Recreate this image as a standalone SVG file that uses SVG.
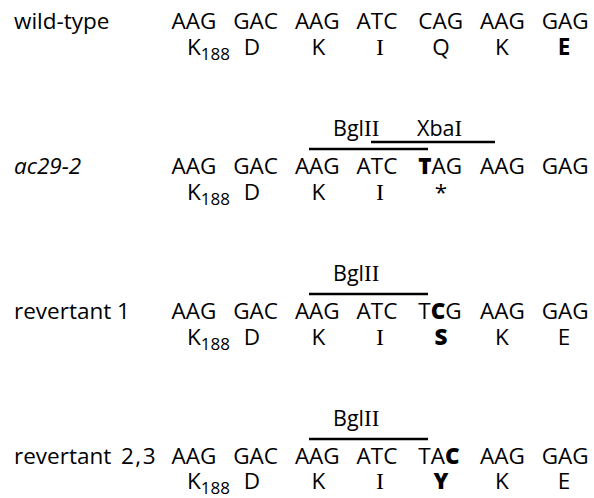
<svg xmlns="http://www.w3.org/2000/svg" width="594" height="498" viewBox="0 0 594 498">
<style>
  text { font-family: "Open Sans", "Liberation Sans", sans-serif; fill: #000; }
  .lbl { font-size: 22.5px; font-weight: 500; }
  .it { font-style: italic; }
  .cod { font-size: 22.5px; font-weight: 500; }
  .aa { font-size: 22.5px; font-weight: 500; text-anchor: middle; }
  .k { font-size: 22.5px; font-weight: 500; }
  .sub { font-size: 17px; }
  .b { font-weight: 800; }
  .bm { font-weight: 700; }
  .ser { font-family: "Liberation Serif", "Times New Roman", serif; font-size: 24px; font-weight: 400; }
  .enz { font-size: 21.5px; font-weight: 500; }
  .enz .ser { font-size: 23px; }
  .site { stroke: #000; stroke-width: 2.5; fill: none; }
</style>

<g id="wild-type">
  <text class="lbl" x="14" y="29">wild-type</text>
  <text class="cod" y="29"><tspan x="171.5">AAG</tspan><tspan x="233.2">GAC</tspan><tspan x="294.9">AAG</tspan><tspan x="356.6">ATC</tspan><tspan x="418.3">CAG</tspan><tspan x="480">AAG</tspan><tspan x="541.7">GAG</tspan></text>
  <text class="k" x="187" y="55">K<tspan class="sub" dy="5">188</tspan></text>
  <text class="aa" y="55"><tspan x="252">D</tspan><tspan x="318.5">K</tspan><tspan x="380" class="ser">I</tspan><tspan x="441">Q</tspan><tspan x="502">K</tspan><tspan x="564" class="bm">E</tspan></text>
</g>

<g id="ac29-2">
  <text class="enz" x="333" y="136">Bgl<tspan class="ser">II</tspan></text>
  <text class="enz" x="417" y="136">Xba<tspan class="ser">I</tspan></text>
  <text class="lbl it" x="14" y="174">ac29-2</text>
  <text class="cod" y="174"><tspan x="171.5">AAG</tspan><tspan x="233.2">GAC</tspan><tspan x="294.9">AAG</tspan><tspan x="356.6">ATC</tspan><tspan x="418.3"><tspan class="b">T</tspan>AG</tspan><tspan x="480">AAG</tspan><tspan x="541.7">GAG</tspan></text>
  <text class="k" x="187" y="200">K<tspan class="sub" dy="5">188</tspan></text>
  <text class="aa" y="200"><tspan x="252">D</tspan><tspan x="318.5">K</tspan><tspan x="380" class="ser">I</tspan><tspan x="441">*</tspan></text>
</g>

<g id="revertant-1">
  <text class="enz" x="333" y="281">Bgl<tspan class="ser">II</tspan></text>
  <text class="lbl" x="14" y="319">revertant 1</text>
  <text class="cod" y="319"><tspan x="171.5">AAG</tspan><tspan x="233.2">GAC</tspan><tspan x="294.9">AAG</tspan><tspan x="356.6">ATC</tspan><tspan x="418.3">T<tspan class="b">C</tspan>G</tspan><tspan x="480">AAG</tspan><tspan x="541.7">GAG</tspan></text>
  <text class="k" x="187" y="345">K<tspan class="sub" dy="5">188</tspan></text>
  <text class="aa" y="345"><tspan x="252">D</tspan><tspan x="318.5">K</tspan><tspan x="380" class="ser">I</tspan><tspan x="441" class="b">S</tspan><tspan x="502">K</tspan><tspan x="564">E</tspan></text>
</g>

<g id="revertant-2-3">
  <text class="enz" x="333" y="426">Bgl<tspan class="ser">II</tspan></text>
  <text class="lbl" x="14" y="464">revertant <tspan x="121" letter-spacing="1.5">2,3</tspan></text>
  <text class="cod" y="464"><tspan x="171.5">AAG</tspan><tspan x="233.2">GAC</tspan><tspan x="294.9">AAG</tspan><tspan x="356.6">ATC</tspan><tspan x="418.3">TA<tspan class="b">C</tspan></tspan><tspan x="480">AAG</tspan><tspan x="541.7">GAG</tspan></text>
  <text class="k" x="187" y="489">K<tspan class="sub" dy="5">188</tspan></text>
  <text class="aa" y="489"><tspan x="252">D</tspan><tspan x="318.5">K</tspan><tspan x="380" class="ser">I</tspan><tspan x="441" class="b">Y</tspan><tspan x="502">K</tspan><tspan x="564">E</tspan></text>
</g>

<g id="connectors">
  <line class="site" x1="371" y1="142" x2="495" y2="142"/>
  <line class="site" x1="309" y1="149" x2="428" y2="149"/>
  <line class="site" x1="309" y1="294" x2="428" y2="294"/>
  <line class="site" x1="309" y1="439" x2="428" y2="439"/>
</g>
</svg>
